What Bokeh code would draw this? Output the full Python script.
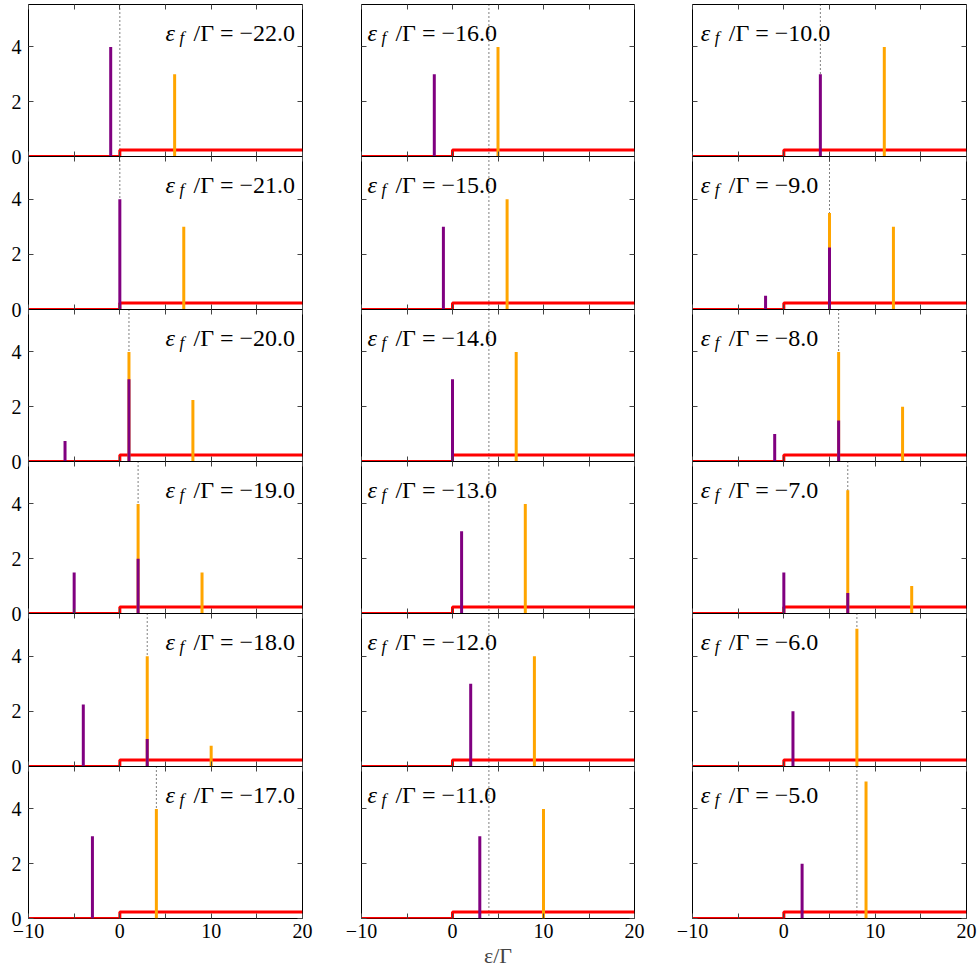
from bokeh.plotting import figure
from bokeh.models import ColumnDataSource, FixedTicker, LinearAxis, Label, Span, Range1d
from bokeh.layouts import row, column
from bokeh.embed import file_html
from bokeh.resources import INLINE

# ---------------- data ----------------
eps_f = [-22.0, -21.0, -20.0, -19.0, -18.0, -17.0,
         -16.0, -15.0, -14.0, -13.0, -12.0, -11.0,
         -10.0, -9.0, -8.0, -7.0, -6.0, -5.0]

mu = [0, 0, 1, 2, 3, 4,
      4, 4, 4, 4, 4, 4,
      4, 5, 6, 7, 8, 8]

purple_x = [[-1], [0], [-6, 1], [-5, 2], [-4, 3], [-3],
            [-2], [-1], [0], [1], [2], [3],
            [4], [-2, 5], [-1, 6], [0, 7], [1], [2]]
purple_h = [[4], [4], [0.75, 3], [1.5, 2], [2.25, 1], [3],
            [3], [3], [3], [3], [3], [3],
            [3], [0.5, 2.25], [1, 1.5], [1.5, 0.75], [2], [2]]

orange_x = [[6], [7], [1, 8], [2, 9], [3, 10], [4],
            [5], [6], [7], [8], [9], [10],
            [11], [5, 12], [6, 13], [7, 14], [8], [9]]
orange_h = [[3], [3], [4, 2.25], [4, 1.5], [4, 0.75], [4],
            [4], [4], [4], [4], [4], [4],
            [4], [3.5, 3], [4, 2], [4.5, 1], [5], [5]]

band_x = [-10, 0, 0, 20]
band_y = [0, 0, 0.24, 0.24]

x_ticks = [-10, 0, 10, 20]
x_minor = [-5, 5, 15]
y_ticks = [0, 2, 4]
x_tick_labels = {-10: "\u221210", 0: "0", 10: "10", 20: "20"}
y_tick_labels = {0: "0", 2: "2", 4: "4"}

# ---------------- layout / style ----------------
FONT = "Liberation Serif"
TICK_COLOR = "#444444"
col_width = [330, 330, 319]
col_left = [28, 31, 32]
col_right = [28, 26, 13]
frame_h = [152, 153, 152, 152, 153, 152]
top_b = [4, 12, 12, 12, 12, 12]
bot_b = [12, 12, 12, 12, 12, 58]
label_x = [5.0, -9.35, -9.1]
label_y = 4.5


def style_axis(ax, ticks, minor, labels, show):
    ax.ticker = FixedTicker(ticks=ticks, minor_ticks=minor)
    ax.axis_line_color = None
    ax.major_tick_in = 5
    ax.major_tick_out = 0
    ax.minor_tick_in = 5
    ax.minor_tick_out = 0
    ax.major_tick_line_color = TICK_COLOR
    ax.minor_tick_line_color = TICK_COLOR
    ax.major_label_text_font = FONT
    if show:
        ax.major_label_overrides = labels
        ax.major_label_text_font_size = "20px"
        ax.major_label_text_color = "black"
    else:
        ax.major_label_overrides = {t: "" for t in ticks}
        ax.major_label_text_font_size = "1px"
        ax.major_label_standoff = 0


def make_panel(i, c, r):
    p = figure(width=col_width[c], height=top_b[r] + frame_h[r] + bot_b[r],
               x_range=Range1d(-10, 20), y_range=Range1d(0, 5.55),
               output_backend="svg", toolbar_location=None,
               x_axis_location=None, y_axis_location=None,
               min_border_left=col_left[c], min_border_right=col_right[c],
               min_border_top=top_b[r], min_border_bottom=bot_b[r])
    p.background_fill_color = None
    p.border_fill_color = None
    p.outline_line_color = "black"
    p.outline_line_width = 1
    p.outline_line_alpha = 1.0
    p.grid.visible = False

    bottom = LinearAxis()
    style_axis(bottom, x_ticks, x_minor, x_tick_labels, r == 5)
    if r == 5:
        bottom.major_label_standoff = 5
        if c == 1:
            bottom.axis_label = "\u03b5/\u0393"
            bottom.axis_label_text_font = FONT
            bottom.axis_label_text_font_style = "normal"
            bottom.axis_label_text_font_size = "22px"
            bottom.axis_label_standoff = 2
    p.add_layout(bottom, "below")

    top = LinearAxis()
    style_axis(top, x_ticks, x_minor, x_tick_labels, False)
    p.add_layout(top, "above")

    left = LinearAxis()
    style_axis(left, y_ticks, [], y_tick_labels, c == 0)
    if c == 0:
        left.major_label_standoff = 7
    p.add_layout(left, "left")

    right = LinearAxis()
    style_axis(right, y_ticks, [], y_tick_labels, False)
    p.add_layout(right, "right")

    span = Span(location=mu[i], dimension="height", line_color="black",
                line_width=1, line_dash="1 3", level="underlay")
    p.add_layout(span)

    p.line(band_x, band_y, line_color="red", line_width=3)

    osrc = ColumnDataSource(dict(x=orange_x[i], h=orange_h[i],
                                 z=[0] * len(orange_x[i])))
    p.segment(x0="x", y0="z", x1="x", y1="h", source=osrc,
              line_color="orange", line_width=3, line_cap="butt")
    psrc = ColumnDataSource(dict(x=purple_x[i], h=purple_h[i],
                                 z=[0] * len(purple_x[i])))
    p.segment(x0="x", y0="z", x1="x", y1="h", source=psrc,
              line_color="purple", line_width=3, line_cap="butt")

    num = "\u2212" + f"{abs(eps_f[i]):.1f}" if eps_f[i] < 0 else f"{eps_f[i]:.1f}"
    lx = label_x[c]
    p.add_layout(Label(x=lx, y=label_y, text="\u03b5", text_font=FONT,
                       text_font_size="24px", text_font_style="italic",
                       text_baseline="alphabetic", text_color="black"))
    p.add_layout(Label(x=lx, y=label_y, x_offset=14, y_offset=-4, text="f",
                       text_font=FONT, text_font_size="17px",
                       text_font_style="italic", text_baseline="alphabetic",
                       text_color="black"))
    p.add_layout(Label(x=lx, y=label_y, x_offset=28, text="/\u0393 = " + num,
                       text_font=FONT, text_font_size="24px",
                       text_baseline="alphabetic", text_color="black"))
    return p


rows = []
for r in range(6):
    figs = [make_panel(c * 6 + r, c, r) for c in range(3)]
    if r == 0:
        rows.append(row(*figs))
    else:
        rows.append(row(*figs, margin=(-(bot_b[r - 1] + top_b[r]), 0, 0, 0)))

layout = column(*rows)

open("out.html", "w").write(file_html(layout, INLINE))
